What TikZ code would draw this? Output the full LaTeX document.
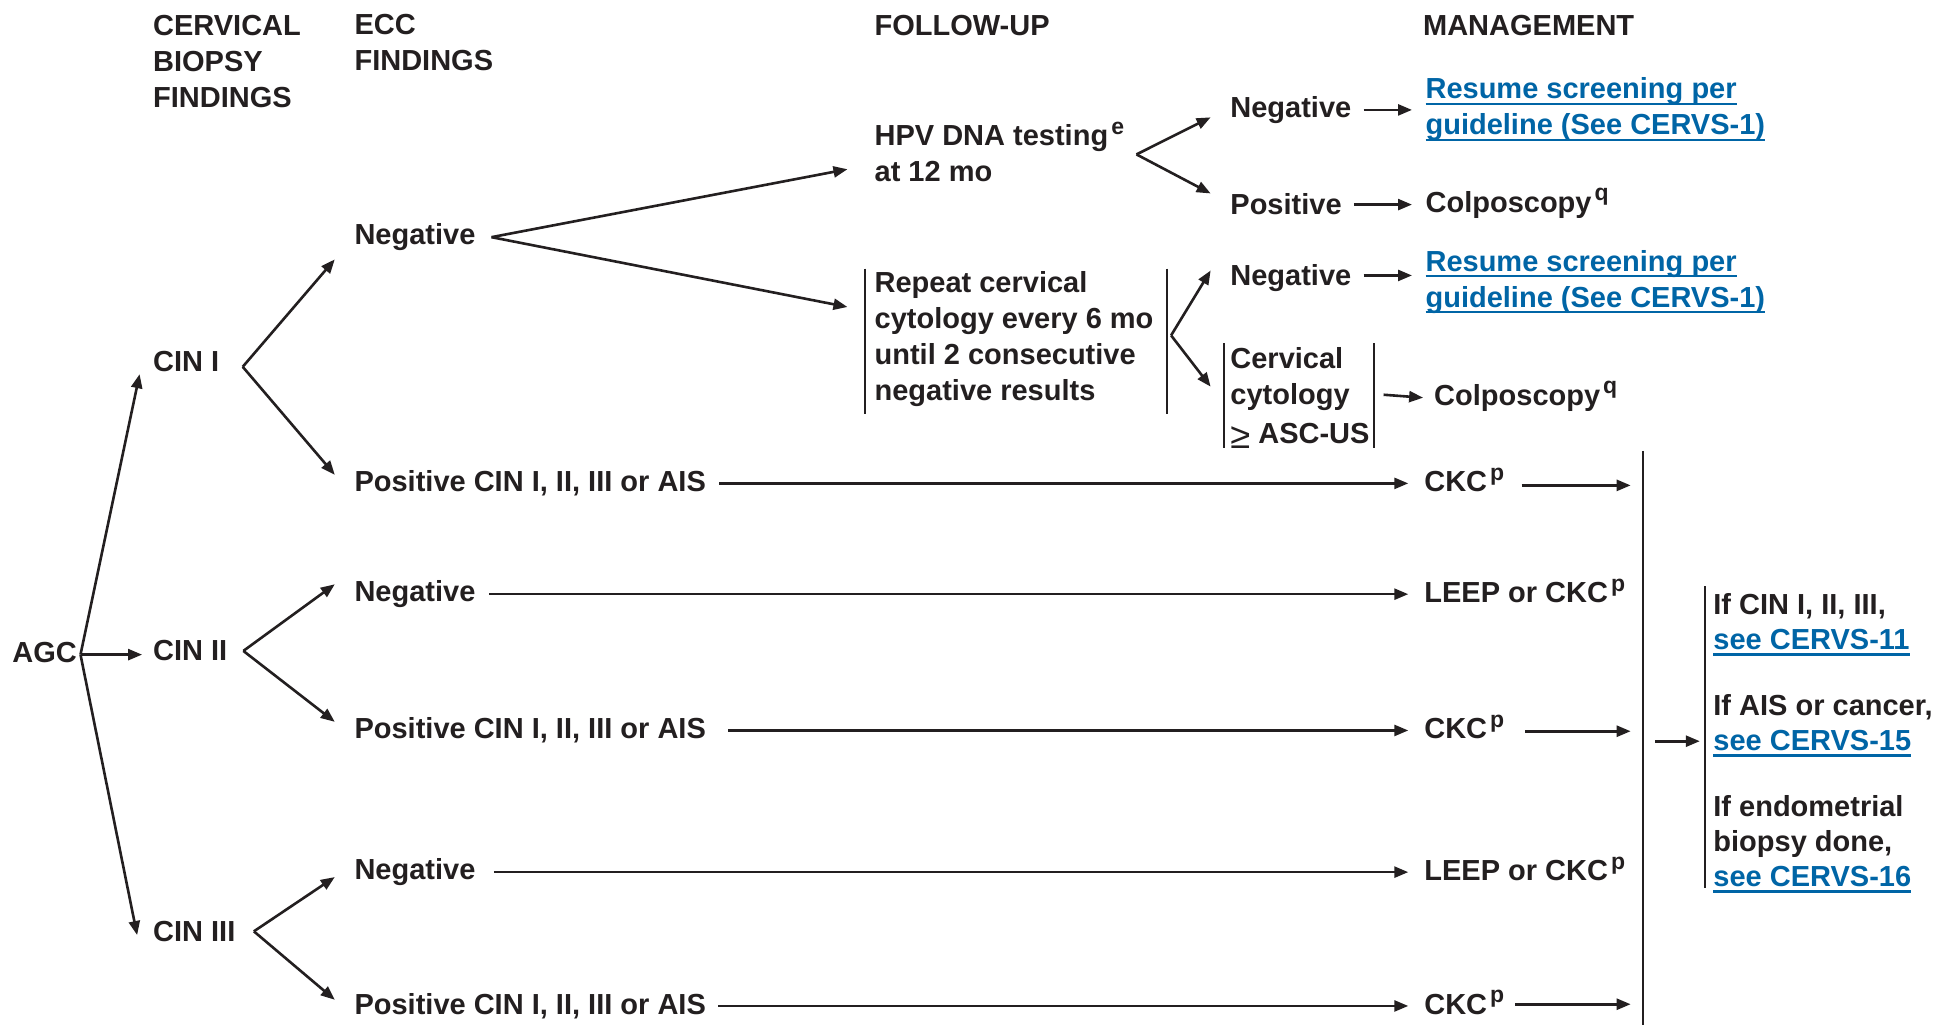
\documentclass[tikz,border=0pt]{standalone}
\usepackage{fontspec}
\setmainfont{Liberation Sans}
\usetikzlibrary{arrows.meta,calc}
\definecolor{ink}{RGB}{35,31,32}
\definecolor{linkblue}{RGB}{0,101,166}
% underlined cross-reference
\newcommand{\lnk}[1]{{\color{linkblue}\setbox0\hbox{#1}\rlap{\rule[-6pt]{\wd0}{2.2pt}}\box0}}
% footnote mark
\newcommand{\fn}[1]{\kern3pt\smash{\raisebox{11.5pt}{\fontsize{23}{23}\selectfont #1}}}
\begin{document}
\begin{tikzpicture}[x=1.2353pt,y=-1.2353pt,
  every node/.style={inner sep=0pt, outer sep=0pt, text=ink,
    font=\fontsize{29}{36}\selectfont\bfseries},
  lbl/.style={anchor=base west},
  blk/.style={anchor=north west, align=left},
  arr/.style={draw=ink, line width=2.6pt, -{Triangle[length=14pt,width=11pt]}},
  bar/.style={draw=ink, line width=2pt}]
\fill[white] (0,0) rectangle (1568,831);
\useasboundingbox (0,0) rectangle (1568,831);

% column headings
\node[blk] (hbiopsy) at (124,12.7) {CERVICAL\\BIOPSY\\FINDINGS};
\node[blk] (hecc) at (287,11.3) {ECC\\FINDINGS};
\node[lbl] (hfu) at (708,28.5) {FOLLOW-UP};
\node[lbl] (hmgmt) at (1152,28.5) {MANAGEMENT};

% biopsy results
\node[lbl] (agc) at (10,536) {AGC};
\node[lbl] (cin1) at (124,301) {CIN I};
\node[lbl] (cin2) at (124,535) {CIN II};
\node[lbl] (cin3) at (124,762) {CIN III};

% ECC results
\node[lbl] (neg1) at (287,198) {Negative};
\node[lbl] (pos1) at (287,398) {Positive CIN I, II, III or AIS};
\node[lbl] (neg2) at (287,487) {Negative};
\node[lbl] (pos2) at (287,598) {Positive CIN I, II, III or AIS};
\node[lbl] (neg3) at (287,712) {Negative};
\node[lbl] (pos3) at (287,821) {Positive CIN I, II, III or AIS};

% follow-up
\node[blk] (hpv) at (708,101) {HPV DNA testing\fn{e}\\at 12 mo};
\node[blk] (rep) at (708,219.5) {Repeat cervical\\cytology every 6 mo\\until 2 consecutive\\negative results};

\node[lbl] (nega) at (996,95) {Negative};
\node[blk] (resa) at (1154,63) {\lnk{Resume screening per}\\\lnk{guideline (See CERVS-1)}};
\node[lbl] (posa) at (996,174) {Positive};
\node[lbl] (cola) at (1154,172) {Colposcopy\fn{q}};

\node[lbl] (negb) at (996,231) {Negative};
\node[blk] (resb) at (1154,202.5) {\lnk{Resume screening per}\\\lnk{guideline (See CERVS-1)}};
\node[blk] (cyt) at (996,281) {Cervical\\cytology\\[3pt]{\mdseries\raisebox{-5pt}{\scalebox{1.25}{≥}}} ASC-US};
\node[lbl] (colb) at (1161,328) {Colposcopy\fn{q}};

% management
\node[lbl] (ckc1) at (1153,398) {CKC\fn{p}};
\node[lbl] (lc1) at (1153,488) {LEEP or CKC\fn{p}};
\node[lbl] (ckc2) at (1153,598) {CKC\fn{p}};
\node[lbl] (lc2) at (1153,713) {LEEP or CKC\fn{p}};
\node[lbl] (ckc3) at (1153,821) {CKC\fn{p}};

\node[blk, font=\fontsize{29}{35}\selectfont\bfseries] (mg) at (1387,480.5)
  {If CIN I, II, III,\\\lnk{see CERVS-11}\\[31pt]If AIS or cancer,\\\lnk{see CERVS-15}\\[31pt]If endometrial\\biopsy done,\\\lnk{see CERVS-16}};

% AGC branches
\coordinate (agcv) at ($(agc.east)+(3,2)$);
\draw[arr] (agcv) -- ($(cin1.west)+(-11,10)$);
\draw[arr] (agcv) -- ($(agcv -| cin2.west)+(-9,0)$);
\draw[arr] (agcv) -- ($(cin3.west)+(-13,3)$);

% CIN branches
\coordinate (c1v) at ($(cin1.east)+(19,4)$);
\draw[arr] (c1v) -- ($(neg1.west)+(-16,18)$);
\draw[arr] (c1v) -- ($(pos1.west)+(-16,-7)$);
\coordinate (c2v) at ($(cin2.east)+(13,0)$);
\draw[arr] (c2v) -- ($(neg2.west)+(-16,-8)$);
\draw[arr] (c2v) -- ($(pos2.west)+(-16,-7)$);
\coordinate (c3v) at ($(cin3.east)+(15,0)$);
\draw[arr] (c3v) -- ($(neg3.west)+(-16,4)$);
\draw[arr] (c3v) -- ($(pos3.west)+(-16,-5)$);

% negative ECC after CIN I
\coordinate (n1v) at ($(neg1.east)+(13,0)$);
\draw[arr] (n1v) -- ($(hpv.north west)+(-22,36)$);
\draw[arr] (n1v) -- ($(rep.north west)+(-22,29)$);

% HPV result branches
\coordinate (hv) at ($(hpv.north west)+(212,24)$);
\draw[arr] (hv) -- ($(nega.west)+(-16,6)$);
\draw[arr] (hv) -- ($(posa.west)+(-16,-9)$);
\draw[arr] ($(nega.east)+(10,0)$) -- ($(nega.east -| resa.west)+(-11,0)$);
\draw[arr] ($(posa.east)+(10,0)$) -- ($(posa.east -| cola.west)+(-11,0)$);

% repeated cytology block and its branches
\coordinate (rl1) at ($(rep.north west)+(-8,-2)$);
\coordinate (rl2) at ($(rep.south west)+(-8,6)$);
\coordinate (rr1) at ($(rep.north west)+(237,-2)$);
\coordinate (rr2) at ($(rep.south west)+(237,6)$);
\draw[bar] (rl1) -- (rl2);
\draw[bar] (rr1) -- (rr2);
\coordinate (rv) at ($(rr1)!0.46!(rr2)+(3,0)$);
\draw[arr] (rv) -- ($(negb.west)+(-16,-6)$);
\draw[arr] (rv) -- ($(cyt.north west)+(-16,32)$);
\draw[arr] ($(negb.east)+(10,-2)$) -- ($(negb.east -| resb.west)+(-11,-2)$);

\coordinate (cl1) at ($(cyt.north west)+(-5,-3)$);
\coordinate (cl2) at ($(cyt.south west)+(-5,0)$);
\coordinate (cr1) at ($(cyt.north west)+(116,-3)$);
\coordinate (cr2) at ($(cyt.south west)+(116,0)$);
\draw[bar] (cl1) -- (cl2);
\draw[bar] (cr1) -- (cr2);
\draw[arr] ($(cr1)!0.49!(cr2)+(8,0)$) -- ($(colb.west)+(-9,0)$);

% long arrows to management
\draw[arr] ($(pos1.east)+(11,0)$) -- ($(pos1.east -| ckc1.west)+(-13,0)$);
\draw[arr] ($(neg2.east)+(11,0)$) -- ($(neg2.east -| lc1.west)+(-13,0)$);
\draw[arr] ($(pos2.east)+(18,0)$) -- ($(pos2.east -| ckc2.west)+(-13,0)$);
\draw[arr] ($(neg3.east)+(15,0)$) -- ($(neg3.east -| lc2.west)+(-13,0)$);
\draw[arr] ($(pos3.east)+(10,0)$) -- ($(pos3.east -| ckc3.west)+(-13,0)$);

% collecting bar
\coordinate (bt) at (1330,365);
\coordinate (bb) at (1330,830);
\draw[bar, line width=2.6pt] (bt) -- (bb);
\draw[arr] ($(ckc1.east)+(14,3)$) -- ($(ckc1.east -| bt)+(-10,3)$);
\draw[arr] ($(ckc2.east)+(17,2)$) -- ($(ckc2.east -| bt)+(-10,2)$);
\draw[arr] ($(ckc3.east)+(9,0)$) -- ($(ckc3.east -| bt)+(-10,0)$);

\coordinate (bm) at (1330,600);
\draw[bar] ($(mg.north west)+(-7,-6)$) -- ($(mg.south west)+(-7,-4)$);
\draw[arr] ($(bm)+(10,0)$) -- ($(bm -| mg.west)+(-11,0)$);
\end{tikzpicture}
\end{document}
